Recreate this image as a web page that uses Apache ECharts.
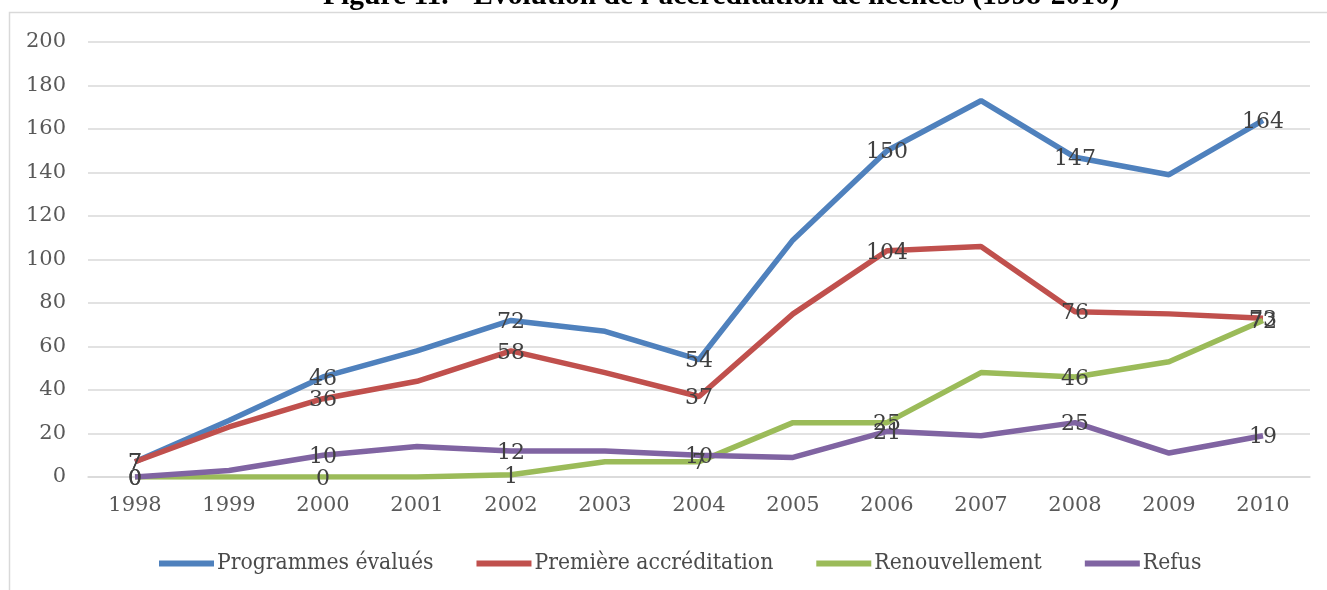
<!DOCTYPE html>
<html>
<head>
<meta charset="utf-8">
<script src="https://cdn.jsdelivr.net/npm/echarts@6/dist/echarts.min.js"></script>
<style>
  html, body { margin: 0; padding: 0; background: #fff; }
  #main { width: 1327px; height: 590px; }
</style>
</head>
<body>
<div id="main"></div>
<script>
var years = ['1998', '1999', '2000', '2001', '2002', '2003', '2004', '2005', '2006', '2007', '2008', '2009', '2010'];
var programmes = [7, 26, 46, 58, 72, 67, 54, 109, 150, 173, 147, 139, 164];
var premiere = [7, 23, 36, 44, 58, 48, 37, 75, 104, 106, 76, 75, 73];
var renouvellement = [0, 0, 0, 0, 1, 7, 7, 25, 25, 48, 46, 53, 72];
var refus = [0, 3, 10, 14, 12, 12, 10, 9, 21, 19, 25, 11, 19];

var chartDom = document.getElementById('main');
var myChart = echarts.init(chartDom);
var option;

// labels only on every other year, centred on the point
function makeSeries(name, values, color) {
  return {
    name: name,
    type: 'line',
    data: values,
    symbol: 'circle',
    symbolSize: 0,
    showSymbol: true,
    lineStyle: { width: 5.5, color: color },
    itemStyle: { color: color },
    label: {
      show: true,
      position: 'inside',
      offset: [0, 2],
      fontFamily: 'DejaVu Serif',
      fontSize: 22,
      color: '#404040',
      formatter: function (p) { return p.dataIndex % 2 === 0 ? String(p.value) : ''; }
    }
  };
}

option = {
  animation: false,
  title: {
    text: 'Figure 11. - Évolution de l\u2019accréditation de licences (1998-2010)',
    left: 318,
    top: -24,
    textStyle: { fontFamily: 'Liberation Serif', fontWeight: 'bold', fontSize: 29.5, color: '#000' }
  },
  graphic: [{
    type: 'rect',
    shape: { x: 9.5, y: 12.5, width: 1400, height: 700 },
    style: { fill: 'none', stroke: '#d9d9d9', lineWidth: 1.5 },
    silent: true
  }],
  grid: { left: 88, right: 17, top: 42, bottom: 113 },
  legend: {
    left: 154,
    top: 547,
    icon: 'rect',
    itemWidth: 55,
    itemHeight: 6,
    itemGap: 43,
    textStyle: { fontFamily: 'DejaVu Serif Condensed', fontSize: 22.7, color: '#4a4a4a', padding: [0, 0, 0, -2] },
    data: ['Programmes évalués', 'Première accréditation', 'Renouvellement', 'Refus']
  },
  xAxis: {
    type: 'category',
    data: years,
    axisLine: { lineStyle: { color: '#d9d9d9', width: 1.5 } },
    axisTick: { show: false },
    axisLabel: { fontFamily: 'DejaVu Serif', fontSize: 21, color: '#595959', margin: 18 }
  },
  yAxis: {
    type: 'value',
    min: 0,
    max: 200,
    interval: 20,
    axisLine: { show: false },
    axisTick: { show: false },
    splitLine: { lineStyle: { color: '#d9d9d9', width: 1.5 } },
    axisLabel: { fontFamily: 'DejaVu Serif', fontSize: 21, color: '#595959', margin: 22 }
  },
  series: [
    makeSeries('Programmes évalués', programmes, '#4f81bd'),
    makeSeries('Première accréditation', premiere, '#c0504d'),
    makeSeries('Renouvellement', renouvellement, '#9bbb59'),
    makeSeries('Refus', refus, '#8064a2')
  ]
};

option && myChart.setOption(option);
</script>
</body>
</html>
